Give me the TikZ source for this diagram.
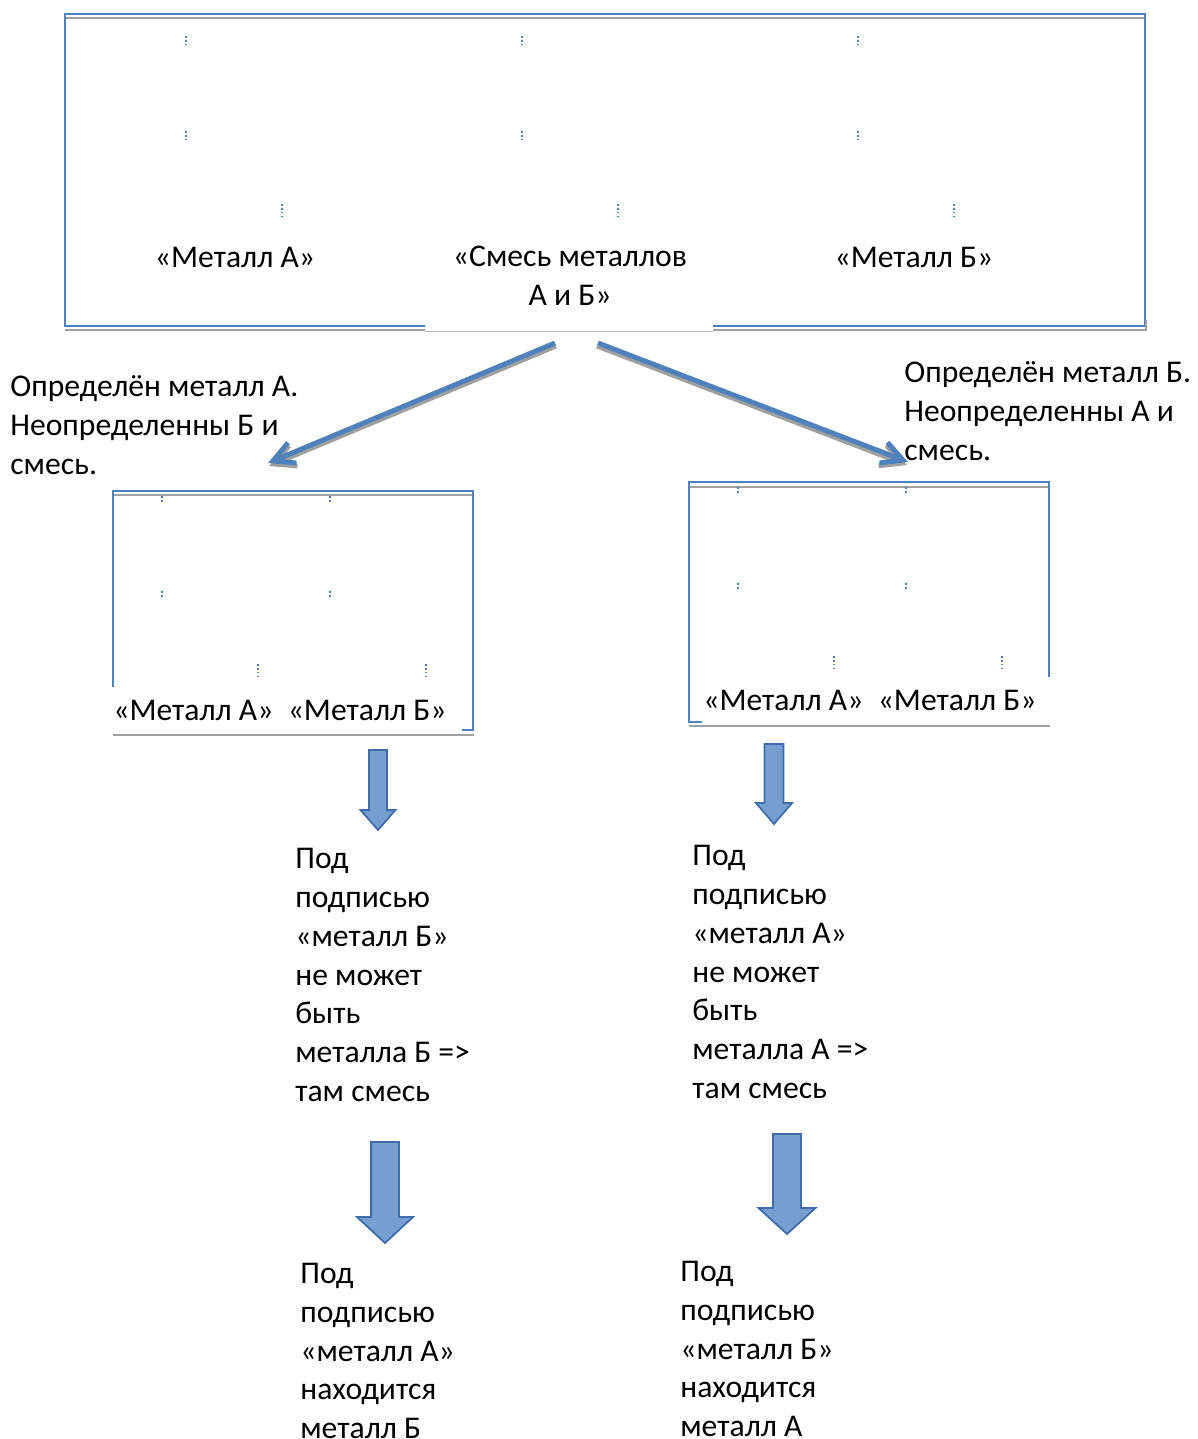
\documentclass[tikz,border=0pt]{standalone}
\usepackage{fontspec}
\setmainfont{Carlito}
\usetikzlibrary{arrows.meta}
\definecolor{frameblue}{RGB}{79,129,189}
\definecolor{framegray}{RGB}{160,160,160}
\definecolor{arrowfill}{RGB}{116,159,208}
\definecolor{arrowline}{RGB}{62,108,170}

\begin{document}
\begin{tikzpicture}[x=0.02cm,y=-0.02cm,
    frame/.style={draw=frameblue,line width=1.2pt},
    shadeline/.style={draw=framegray,line width=0.9pt},
    dotmark/.style={draw=frameblue,line width=0.7pt,dash pattern=on 1pt off 1.2pt},
    txt/.style={font=\fontsize{18}{22.1}\selectfont,align=left,inner sep=0pt,anchor=west},
    ctxt/.style={font=\fontsize{18}{22.1}\selectfont,align=center,inner sep=0pt},
    branch/.style={line width=2.8pt,-{Straight Barb[length=0.42cm,width=0.44cm]}},
    blockarrow/.style={fill=arrowfill,draw=arrowline,line width=1pt,line join=miter}]
\useasboundingbox (0,0) rectangle (1197,1439);

% top box
\draw[frame] (65,14) rectangle (1145,326);
\draw[shadeline] (66,18) -- (1144,18);
\draw[shadeline] (65,330) -- (1146,330) -- (1146,320);
\fill[white] (425,318) rectangle (713,333);
\draw[draw=framegray!70,line width=0.5pt] (425,331) -- (713,331);
\foreach \x in {186,522,858} {
    \draw[dotmark] (\x,36) -- (\x,44);
    \draw[dotmark] (\x,131) -- (\x,139);
    \draw[dotmark] (\x+96,204) -- (\x+96,219);
}
\node[ctxt] (topA) at (235,257) {«Металл А»};
\node[ctxt] (topMix) at (570,276) {«Смесь металлов\\ А и Б»};
\node[ctxt] (topB) at (914,257) {«Металл Б»};

% branches
\coordinate (mixL) at (555,343);
\coordinate (mixR) at (598,343);
\coordinate (endL) at (268,463);
\coordinate (endR) at (908,462);
\draw[branch,framegray] ([shift={(1,3)}]mixL) -- ([shift={(1,3)}]endL);
\draw[branch,frameblue] (mixL) -- (endL);
\draw[branch,framegray] ([shift={(-1,3)}]mixR) -- ([shift={(-1,3)}]endR);
\draw[branch,frameblue] (mixR) -- (endR);

\node[txt] (noteA) at (10,425) {Определён металл А.\\Неопределенны Б и\\смесь.};
\node[txt] (noteB) at (904,411) {Определён металл Б.\\Неопределенны А и\\смесь.};

% left box
\draw[frame] (113,491) rectangle (473,730);
\draw[shadeline] (114,495) -- (472,495);
\fill[white] (110,687) rectangle (462,733);
\draw[shadeline] (113,735) -- (474,735);
\foreach \x in {162,330} {
    \draw[dotmark] (\x,496) -- (\x,503);
    \draw[dotmark] (\x,591) -- (\x,598);
    \draw[dotmark] (\x+96,664) -- (\x+96,678);
}
\node[ctxt] (pairL) at (280,710) {«Металл А»\ \ «Металл Б»};

% right box
\draw[frame] (689,482) rectangle (1049,722);
\draw[shadeline] (690,487) -- (1048,487);
\fill[white] (702,677) rectangle (1052,724);
\draw[shadeline] (689,726) -- (1050,726);
\foreach \x in {738,906} {
    \draw[dotmark] (\x,487) -- (\x,494);
    \draw[dotmark] (\x,583) -- (\x,590);
    \draw[dotmark] (\x+96,656) -- (\x+96,669);
}
\node[ctxt] (pairR) at (870,700) {«Металл А»\ \ «Металл Б»};

% block arrows: centre x / top / shaft half / head half / tip y / head length
\foreach \cx/\ty/\sw/\hw/\tip/\hl in {378/750/9/17.5/830/20, 774/744/9.5/18/824/21,
                                     385/1142/14/28/1243/26, 787/1134/14/28.5/1234/26} {
    \draw[blockarrow] (\cx-\sw,\ty) -- (\cx+\sw,\ty) -- (\cx+\sw,\tip-\hl) -- (\cx+\hw,\tip-\hl)
        -- (\cx,\tip) -- (\cx-\hw,\tip-\hl) -- (\cx-\sw,\tip-\hl) -- cycle;
}

\node[txt] (reasonL) at (295,975) {Под\\подписью\\«металл Б»\\не может\\быть\\металла Б =>\\там смесь};
\node[txt] (reasonR) at (692,972) {Под\\подписью\\«металл А»\\не может\\быть\\металла А =>\\там смесь};
\node[txt] (resultL) at (300,1351) {Под\\подписью\\«металл А»\\находится\\металл Б};
\node[txt] (resultR) at (680,1349) {Под\\подписью\\«металл Б»\\находится\\металл А};
\end{tikzpicture}
\end{document}
